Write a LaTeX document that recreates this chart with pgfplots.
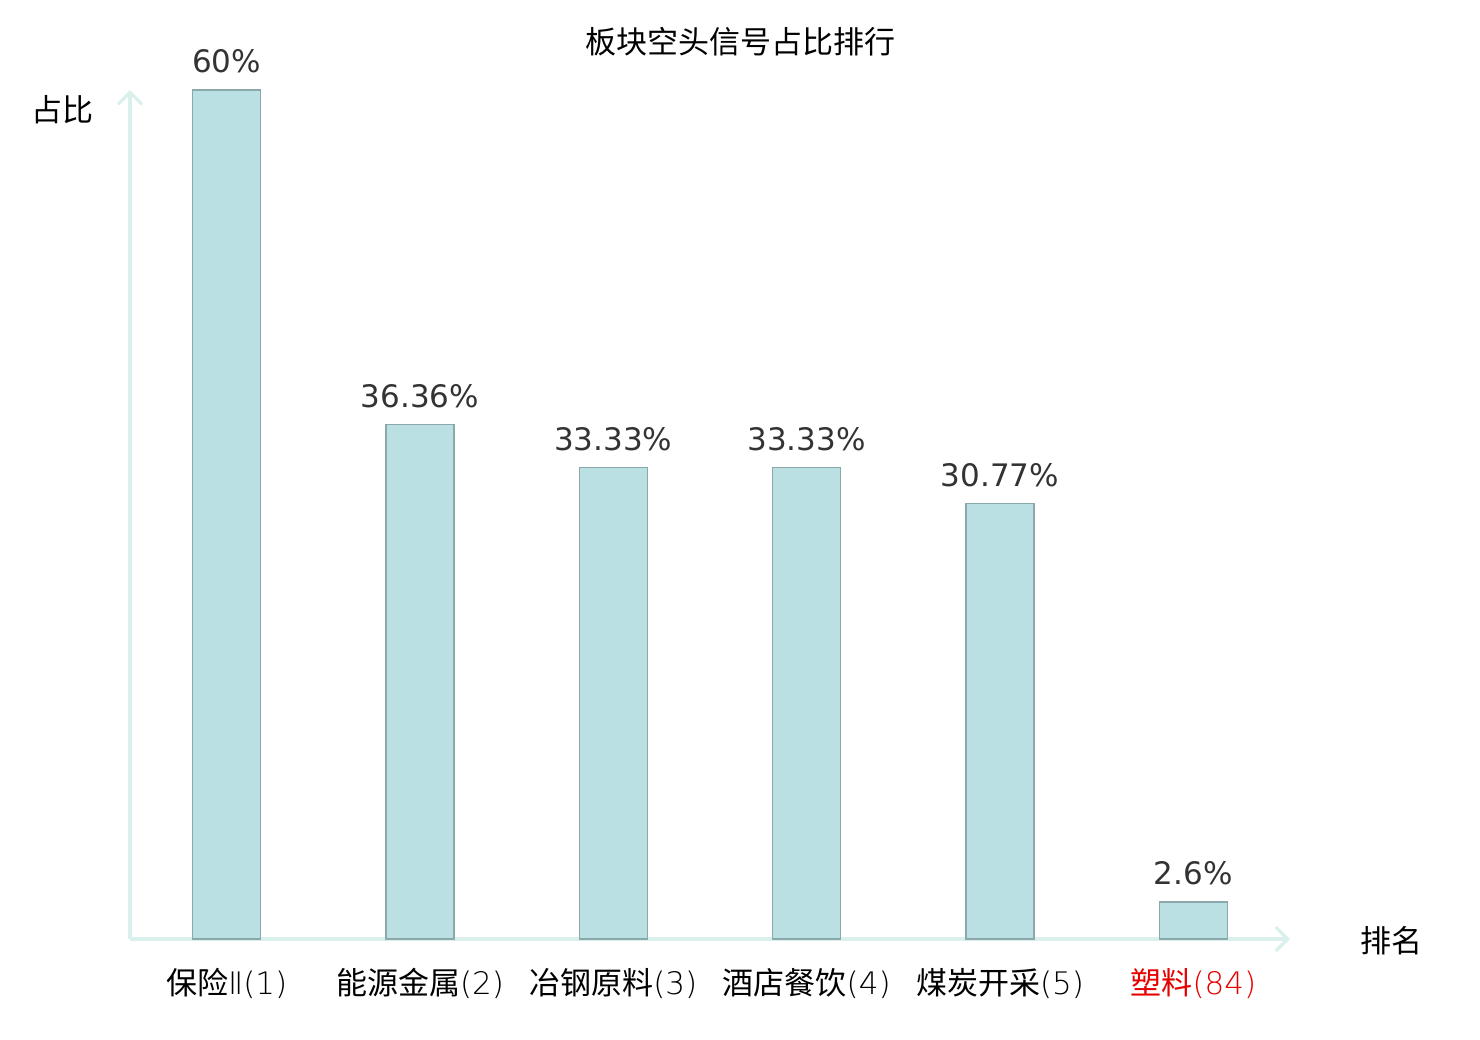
\documentclass[border=0pt]{standalone}
\usepackage{pgfplots}
\pgfplotsset{compat=1.18}
\usetikzlibrary{arrows.meta}
\usepackage{fontspec}
\setmainfont{DejaVu Sans}
\newfontfamily\cjk{Noto Sans CJK SC}
\newfontfamily\thin{DejaVu Sans ExtraLight}
\definecolor{barfill}{RGB}{187,224,227}
\definecolor{baredge}{RGB}{139,168,171}
\definecolor{axiscol}{RGB}{218,240,237}
\definecolor{valcol}{RGB}{51,51,51}
\definecolor{redlab}{RGB}{230,0,0}
\newcommand{\lab}[2]{{\cjk #1}{\thin (#2)}}
\begin{document}
\begin{tikzpicture}
\path[use as bounding box] (-65pt,-50.5pt) rectangle (675pt,469.5pt);
\begin{axis}[
  at={(0,0)}, anchor=south west,
  scale only axis,
  width=580pt, height=424.5pt,
  xmin=-0.5, xmax=5.5, ymin=0, ymax=60,
  axis lines=left,
  axis line style={color=axiscol, line width=1.6pt, -{Straight Barb[length=6pt,width=12pt,line width=1.6pt]}},
  ytick=\empty,
  xtick={0,1,2,3,4,5},
  major tick length=0pt,
  xticklabels={{{\cjk 保险}{\thin Ⅱ(1)}},{\lab{能源金属}{2}},{\lab{冶钢原料}{3}},{\lab{酒店餐饮}{4}},{\lab{煤炭开采}{5}},{\color{redlab}\lab{塑料}{84}}},
  xticklabel style={anchor=north, inner sep=0pt, yshift=-14.5pt, font=\fontsize{15.5}{18}\selectfont},
  clip=false,
  ybar, bar width=34pt, bar shift=0pt,
  /pgf/number format/assume math mode=true,
  nodes near coords={\pgfmathprintnumber[fixed,precision=2,assume math mode=true]{\pgfplotspointmeta}\%},
  nodes near coords style={font=\fontsize{15.5}{18}\selectfont, color=valcol, anchor=south, inner sep=0pt, yshift=8pt},
]
\addplot[fill=barfill, draw=baredge, line width=0.8pt] coordinates {(0,60) (1,36.36) (2,33.33) (3,33.33) (4,30.77) (5,2.6)};
\end{axis}
\node[font=\cjk\fontsize{15.5}{18}\selectfont] at (305pt,448.5pt) {板块空头信号占比排行};
\node[font=\cjk\fontsize{15.5}{18}\selectfont] at (-33.5pt,414.5pt) {占比};
\node[font=\cjk\fontsize{15.5}{18}\selectfont] at (630.5pt,-1pt) {排名};
\end{tikzpicture}
\end{document}
